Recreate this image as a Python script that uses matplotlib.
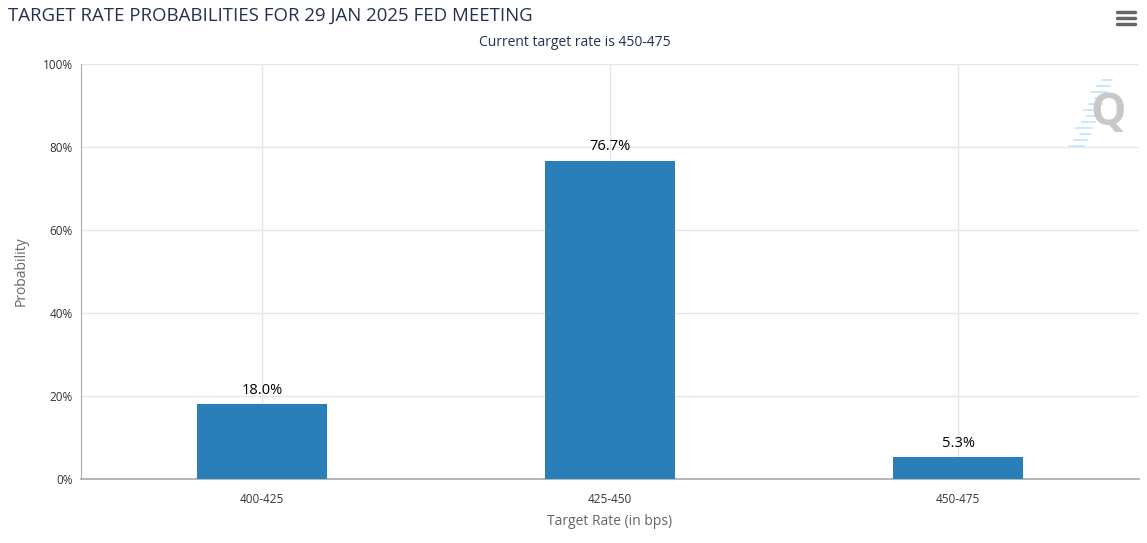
import numpy as np
import matplotlib.pyplot as plt
from matplotlib.ticker import FuncFormatter

# data
categories = ["400-425", "425-450", "450-475"]
probabilities = [18.0, 76.7, 5.3]
yticks = [0, 20, 40, 60, 80, 100]

plt.rcParams['font.family'] = ['Open Sans', 'DejaVu Sans']

fig = plt.figure(figsize=(11.47, 5.43), dpi=100)
ax = fig.add_axes([81/1147, 1 - 479/543, (1139 - 81)/1147, (479 - 64)/543])

x = np.arange(len(categories))
bars = ax.bar(x, probabilities, width=0.375, color='#2a7fb8', zorder=3)

for b, v in zip(bars, probabilities):
    ax.text(b.get_x() + b.get_width()/2, v + 1.5, f"{v:.1f}%", ha='center', va='bottom',
            fontsize=10.5, color='#000000', zorder=4)

ax.set_xlim(-0.52, 2.52)
ax.set_ylim(0, 100)
ax.set_yticks(yticks)
ax.yaxis.set_major_formatter(FuncFormatter(lambda v, p: f"{v:.0f}%"))
ax.set_xticks(x)
ax.set_xticklabels(categories)
ax.tick_params(axis='both', length=0, labelsize=8.5, colors='#333333')
ax.tick_params(axis='x', pad=10)
ax.tick_params(axis='y', pad=6)
ax.grid(True, color='#e6e6e6', linewidth=1, zorder=0)
for s in ['top', 'right']:
    ax.spines[s].set_visible(False)
ax.spines['left'].set_color('#aaaaaa')
ax.spines['bottom'].set_color('#aaaaaa')
ax.spines['bottom'].set_linewidth(1.2)

ax.set_ylabel("Probability", fontsize=10, color='#666666', labelpad=10)
ax.set_xlabel("Target Rate (in bps)", fontsize=10, color='#666666', labelpad=6)

fig.text(8/1147, 1 - 16/543, "TARGET RATE PROBABILITIES FOR 29 JAN 2025 FED MEETING",
         fontsize=13.4, color='#253050', ha='left', va='center')
fig.text(575/1147, 1 - 43/543, "Current target rate is 450-475",
         fontsize=10, color='#253050', ha='center', va='center')

# menu icon
for yy in [12, 18, 24]:
    fig.add_artist(plt.Line2D([1117/1147, 1135/1147], [1 - yy/543]*2, color='#666666',
                              linewidth=2.5, solid_capstyle='round'))

# watermark
for i in range(12):
    yy = 80 + i * 6
    xr = 1112 - i * 2.5
    fig.add_artist(plt.Line2D([(xr - 10 - (i % 3) * 3)/1147, xr/1147], [1 - yy/543]*2,
                              color='#bfe6fa', linewidth=1.2))
fig.text(1108/1147, 1 - 114/543, "Q", fontsize=32, fontweight='bold', color='#c8c8c8',
         ha='center', va='center')

fig.savefig("out.png", dpi=100)
